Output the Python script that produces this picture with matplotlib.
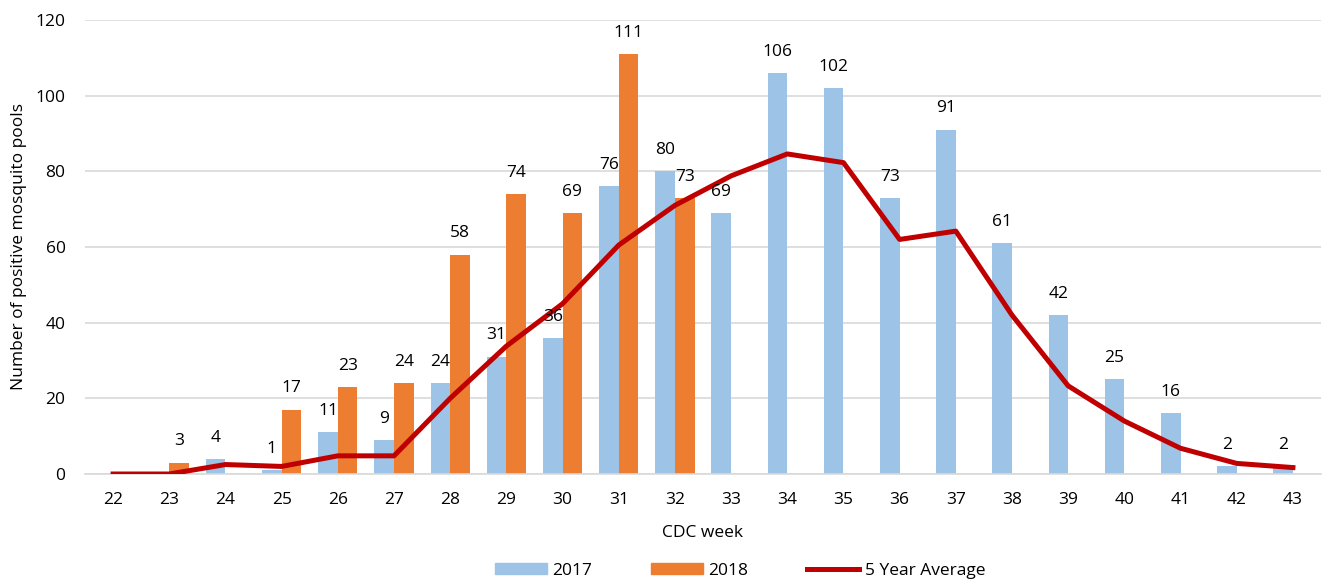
import matplotlib.pyplot as plt
from matplotlib.patches import Patch
from matplotlib.lines import Line2D
import numpy as np

plt.rcParams['font.family'] = ['Open Sans', 'DejaVu Sans']

weeks = list(range(22, 44))
# nan = no bar / no label
y2017 = [np.nan, np.nan, 4, 1, 11, 9, 24, 31, 36, 76, 80, 69, 106, 102, 73, 91, 61, 42, 25, 16, 2, 2]
y2018 = [np.nan, 3, np.nan, 17, 23, 24, 58, 74, 69, 111, 73] + [np.nan] * 11
avg5 = [0, 0, 2.5, 2.0, 4.8, 4.8, 20, 33.8, 45, 60.5, 71, 78.8, 84.6, 82.3, 62, 64.2, 42, 23.3, 14, 6.8, 2.8, 1.7]

c17 = '#9DC3E6'
c18 = '#ED7D31'
cavg = '#C00000'
fs = 12.5

fig = plt.figure(figsize=(13.28, 5.87), dpi=100)
ax = fig.add_axes([85 / 1328, 1 - 474 / 587, (1321 - 85) / 1328, (474 - 20) / 587])

x = np.array(weeks)
w = 0.35
ax.bar(x - w / 2, y2017, w, color=c17, zorder=2)
ax.bar(x + w / 2, y2018, w, color=c18, zorder=2)
ax.plot(x, avg5, color=cavg, lw=3.6, zorder=3, solid_joinstyle='round')

for xi, v in zip(x, y2017):
    if not np.isnan(v):
        ax.text(xi - w / 2, v + 3.5, str(v), ha='center', va='bottom', fontsize=fs)
for xi, v in zip(x, y2018):
    if not np.isnan(v):
        ax.text(xi + w / 2, v + 3.5, str(v), ha='center', va='bottom', fontsize=fs)

ax.set_xlim(21.5, 43.5)
ax.set_ylim(0, 120)
ax.set_xticks(weeks)
ax.set_xticklabels([str(v) for v in weeks])
ax.set_yticks(range(0, 121, 20))
ax.tick_params(length=0, labelsize=fs)
ax.tick_params(axis='x', pad=13)
ax.tick_params(axis='y', pad=14)
ax.grid(axis='y', color='#D9D9D9', lw=1.2, zorder=0)
for s in ['top', 'right', 'left']:
    ax.spines[s].set_visible(False)
ax.spines['bottom'].set_color('#D9D9D9')
ax.spines['bottom'].set_linewidth(1.2)

ax.set_xlabel('CDC week', fontsize=fs, labelpad=12)
ax.set_ylabel('Number of positive mosquito pools', fontsize=fs, labelpad=6)

handles = [Patch(color=c17, label='2017'),
           Patch(color=c18, label='2018'),
           Line2D([], [], color=cavg, lw=3.6, label='5 Year Average')]
fig.legend(handles=handles, loc='center', bbox_to_anchor=(740 / 1328, 1 - 571 / 587),
           ncol=3, frameon=False, fontsize=fs, handlelength=3.0, handleheight=0.6,
           columnspacing=3.4, handletextpad=0.3)

fig.savefig('out.png', dpi=100)
